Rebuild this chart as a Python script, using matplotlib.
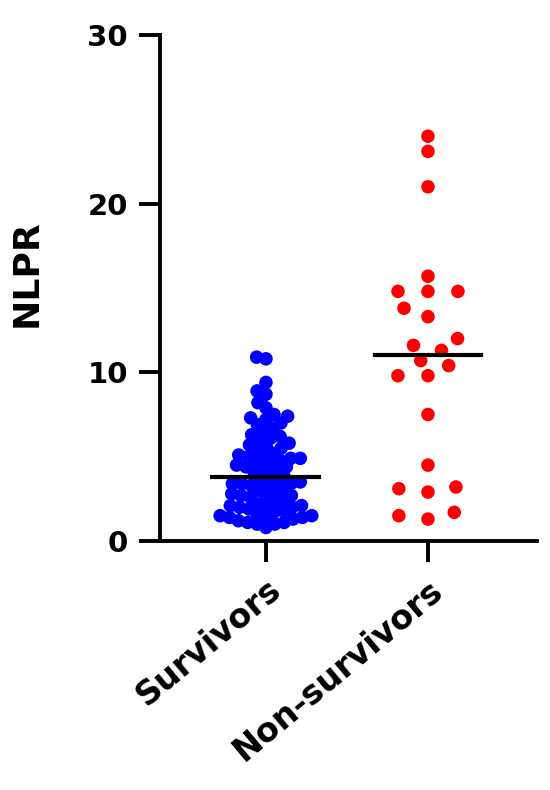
import numpy as np
import matplotlib
matplotlib.use("Agg")
import matplotlib.pyplot as plt

categories = ["Survivors", "Non-survivors"]
survivors = [10.9, 10.8, 9.4, 8.9, 8.7, 8.2, 7.9, 7.5, 7.4, 7.3, 7.2, 7.0, 6.9, 6.7,
             6.5, 6.3, 6.2, 6.1, 6.0, 5.8, 5.7, 5.6, 5.5, 5.4, 5.2, 5.1, 5.0, 4.9,
             4.9, 5.0, 4.8, 4.7, 4.6, 4.5, 4.4, 4.3, 4.4, 4.2, 4.1, 3.9, 3.8, 3.7,
             3.5, 3.4, 3.4, 3.3, 3.5, 3.3, 3.4, 3.1, 3.0,
             2.9, 2.8, 2.7, 2.6, 2.6, 2.7, 2.4, 2.3,
             2.2, 2.1, 2.0, 2.0, 1.9, 2.1, 2.0, 1.8, 1.7,
             1.6, 1.5, 1.4, 1.4, 1.3, 1.5, 1.4, 1.2,
             1.1, 1.0, 1.0, 1.1, 0.8]
non_survivors = [24.0, 23.1, 21.0, 15.7, 14.8, 14.8, 14.8, 13.3, 13.8, 12.0,
                 10.7, 11.3, 11.6, 10.4, 9.8, 9.8, 7.5, 4.5, 3.1, 2.9, 3.2,
                 1.3, 1.7, 1.5]
colors = ["#0000FF", "#FF0000"]
yticks = [0, 10, 20, 30]

W, H, DPI = 5.5, 7.9, 100
left, right, bottom, top = 160/550, 537/550, 1 - 541/790, 1 - 35/790
xlim = (-0.654, 1.673)
ylim = (0, 30)

fig = plt.figure(figsize=(W, H), dpi=DPI)
ax = fig.add_axes([left, bottom, right - left, top - bottom])
ax.set_xlim(*xlim)
ax.set_ylim(*ylim)

ax_w_px = (right - left) * W * DPI
ax_h_px = (top - bottom) * H * DPI
px_per_x = ax_w_px / (xlim[1] - xlim[0])
px_per_y = ax_h_px / (ylim[1] - ylim[0])


def swarm(values, sx=13.0, sy=13.0):
    ys = np.asarray(values, float) * px_per_y
    order = np.argsort(ys)
    placed = []
    offs = np.zeros(len(ys))
    for i in order:
        y = ys[i]
        cands = [0.0]
        for (xj, yj) in placed:
            dy = abs(y - yj)
            if dy < sy:
                dx = sx * np.sqrt(1 - (dy / sy) ** 2)
                cands += [xj + dx, xj - dx]
        cands = sorted(cands, key=lambda c: (abs(c), c))
        for c in cands:
            ok = True
            for (xj, yj) in placed:
                if ((c - xj) / sx) ** 2 + ((y - yj) / sy) ** 2 < 1 - 1e-6:
                    ok = False
                    break
            if ok:
                offs[i] = c
                placed.append((c, y))
                break
    return offs / px_per_x


spacing = [(9.5, 9.5), (30.0, 14.0)]
for k, (vals, col) in enumerate(zip([survivors, non_survivors], colors)):
    xo = swarm(vals, *spacing[k])
    ax.scatter(k + xo, vals, s=95, color=col, edgecolors="none", zorder=3)
    med = np.median(vals)
    ax.plot([k - 0.33, k + 0.33], [med, med], color="black", lw=3, zorder=4)

for s in ["top", "right"]:
    ax.spines[s].set_visible(False)
for s in ["left", "bottom"]:
    ax.spines[s].set_linewidth(2.8)

ax.set_yticks(yticks)
ax.set_xticks([0, 1])
ax.tick_params(axis="both", direction="out", length=15, width=2.8)
ax.tick_params(axis="y", pad=8)
ax.tick_params(axis="x", pad=8)

fp = dict(family="DejaVu Sans", weight="bold")
ax.set_yticklabels([str(t) for t in yticks], fontsize=21, **fp)
ax.set_xticklabels(categories, fontsize=24, rotation=40, ha="right",
                   rotation_mode="anchor", **fp)
ax.set_ylabel("NLPR", fontsize=26, **fp)
ax.yaxis.set_label_coords(-0.31, 0.53)

fig.savefig("out.png", dpi=DPI)
